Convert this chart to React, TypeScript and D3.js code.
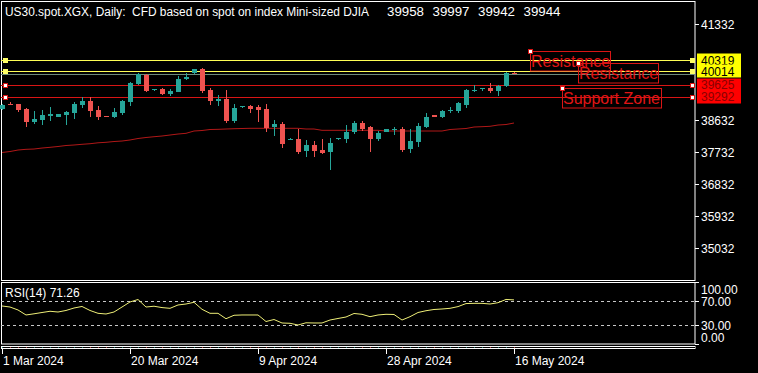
import React from 'react';
import * as d3 from 'd3';

// ---- data ----
const openP = [38949,39104,39098,38949,38575,38640,38761,38733,38781,38845,39062,39174,38921,38752,38733,38845,39155,39652,39906,39492,39512,39371,39436,39785,39953,40074,39484,39183,39231,38612,38997,39034,38997,38949,38435,38528,38092,38106,37768,37937,37796,37732,38114,38106,38294,38564,38435,38106,38311,38367,38387,37816,38030,38452,38781,38733,38885,38893,39062,39464,39512,39548,39456,39596,39958];
const highP = [39090,39138,39104,38986,38893,38921,39014,38820,38893,39155,39295,39295,39034,38761,38986,39202,39709,39953,39934,39526,39540,39512,39877,39953,40074,40089,39532,39343,39484,39090,39034,39062,39062,39090,38640,38592,38134,38387,38078,38049,38106,38142,38142,38499,38612,38612,38471,38331,38401,38452,38435,38378,38547,38845,38789,38921,38997,39155,39503,39624,39540,39672,39624,39998,39997];
const lowP = [38921,39062,38873,38452,38528,38499,38612,38725,38499,38660,38969,38733,38640,38725,38705,38781,39042,39624,39419,39456,39335,39323,39427,39779,39948,39408,39062,39042,38564,38564,38992,38828,38592,38311,38198,37861,38078,37675,37608,37608,37675,37234,38092,38002,38238,38339,37749,38049,38302,38218,37749,37720,37872,38407,38725,38705,38828,38828,38969,39419,39464,39391,39323,39560,39942];
const closeP = [39062,39076,38921,38584,38668,38781,38809,38809,38873,39098,39183,38893,38733,38733,38873,39174,39689,39925,39456,39512,39371,39456,39793,39858,40066,39456,39183,39231,38612,38969,39025,38941,38921,38423,38528,37965,38114,37732,37937,37768,37703,38002,38134,38311,38564,38378,38106,38283,38387,38387,37796,38058,38480,38733,38733,38902,38913,39110,39484,39498,39532,39456,39596,39953,39944];
const maValues = [37726,37754,37796,37816,37824,37852,37872,37895,37923,37937,37957,37973,37999,38013,38035,38049,38078,38120,38148,38170,38190,38218,38246,38266,38331,38345,38373,38378,38387,38395,38401,38407,38407,38407,38407,38407,38407,38407,38387,38387,38350,38350,38350,38350,38350,38350,38350,38350,38331,38331,38331,38331,38331,38331,38331,38331,38373,38387,38401,38443,38452,38463,38499,38513,38556];
const rsiValues = [61.4,59.7,54.9,46.8,48.7,50.8,52.8,51.6,54.1,58.1,60.6,54.1,49.5,48.4,51.6,59.7,67.9,71.9,59.7,61.0,58.8,57.6,63.0,64.6,67.4,56.0,49.5,49.5,40.7,46.3,46.8,46.8,46.8,36.2,39.4,33.8,33.3,30.5,34.1,33.8,33.8,38.6,41.1,43.5,49.2,47.9,44.0,46.8,47.9,47.6,38.6,44.0,50.8,53.7,55.7,56.5,57.6,60.4,65.3,65.7,65.7,64.6,66.7,72.0,71.26];

const dateLabels = ['1 Mar 2024', '20 Mar 2024', '9 Apr 2024', '28 Apr 2024', '16 May 2024'];
const dateBars = [0, 16, 32, 48, 64];
const priceTicks = [41332, 40432, 39532, 38632, 37732, 36832, 35932, 35032];
const resistanceLevels = [40319, 40014];
const supportLevels = [39625, 39292];
const bidPrice = 39944;
const rsiLevels = [70, 30];
const rsiAxisLabels = ['100.00', '70.00', '30.00', '0.00'];
const rsiAxisValues = [100, 70, 30, 0];
const annotations = [
  { text: 'Resistance', bar: 66, price: 40581 },
  { text: 'Resistance', bar: 72, price: 40243 },
  { text: 'Support Zone', bar: 70, price: 39540 },
];
const titleMain = 'US30.spot.XGX, Daily:  CFD based on spot on index Mini-sized DJIA';
const titleOHLC = ['39958', '39997', '39942', '39944'];
const rsiTitle = 'RSI(14) 71.26';

const W = 758, H = 373;
const FONT = '"Liberation Sans", Arial, sans-serif';
const BULL = '#26a69a', BEAR = '#ef5350';

export default function App() {
  const x = d3.scaleLinear().domain([0, 64]).range([2, 514]);
  const y = d3.scaleLinear().domain([35032, 41332]).range([248.3, 24.3]);
  const ry = d3.scaleLinear().domain([0, 100]).range([343.8, 282.2]);
  const px = (v: number) => Math.round(v) + 0.5;

  const maLine = d3.line<number>().x((_, i) => x(i)).y(d => y(d))(maValues) || '';
  const rsiLine = d3.line<number>().x((_, i) => x(i)).y(d => ry(d))(rsiValues) || '';

  const left = 1, right = 695;
  const rsiLabelY = [289, 301, 325, 337];
  const levelYs = [...resistanceLevels, ...supportLevels].map(p => y(p));
  const visibleTicks = priceTicks.filter(p => levelYs.every(ly => Math.abs(ly - y(p)) > 8));

  return (
    <svg width={W} height={H} style={{ position: 'fixed', left: 0, top: 0, background: '#000', display: 'block' }} fontFamily={FONT}>
      <rect x={0} y={0} width={W} height={H} fill="#000" />
      <rect x={1.5} y={1.5} width={right - 1.5} height={279} fill="none" stroke="#fff" strokeWidth={1} />
      <rect x={1.5} y={282.5} width={right - 1.5} height={61.5} fill="none" stroke="#fff" strokeWidth={1} />
      <rect x={1.5} y={346.5} width={right - 1.5} height={2} fill="none" stroke="#fff" strokeWidth={1} />

      <line x1={left} x2={right} y1={px(y(bidPrice))} y2={px(y(bidPrice))} stroke="#6e8c7a" strokeWidth={1} />
      {resistanceLevels.map((p, i) => (
        <line key={'r' + i} x1={left} x2={right} y1={px(y(p))} y2={px(y(p))} stroke="#ffff55" strokeWidth={1} />
      ))}
      {supportLevels.map((p, i) => (
        <line key={'s' + i} x1={left} x2={right} y1={px(y(p))} y2={px(y(p))} stroke="#d81515" strokeWidth={1} />
      ))}

      <path d={maLine} fill="none" stroke="#b01818" strokeWidth={1} />

      {openP.map((o, i) => {
        const c = closeP[i];
        const bull = c >= o;
        const col = bull ? BULL : BEAR;
        const cx = Math.round(x(i));
        const top = Math.round(y(Math.max(o, c)));
        const bot = Math.round(y(Math.min(o, c)));
        return (
          <g key={'c' + i}>
            <line x1={cx + 0.5} x2={cx + 0.5} y1={Math.round(y(highP[i]))} y2={Math.round(y(lowP[i]))} stroke={col} strokeWidth={1} />
            <rect x={cx - 2} y={top} width={5} height={Math.max(1, bot - top)} fill={col} />
          </g>
        );
      })}

      {resistanceLevels.map((p, i) => (
        <g key={'rm' + i}>
          <rect x={3} y={Math.round(y(p)) - 2} width={5} height={5} fill="#ffff66" />
          <rect x={690} y={Math.round(y(p)) - 2} width={5} height={5} fill="#ffff66" />
        </g>
      ))}
      {supportLevels.map((p, i) => (
        <g key={'sm' + i}>
          <rect x={3.5} y={Math.round(y(p)) - 1.5} width={4} height={4} fill="#fff" stroke="#d81515" />
          <rect x={690.5} y={Math.round(y(p)) - 1.5} width={4} height={4} fill="#fff" stroke="#d81515" />
        </g>
      ))}

      {annotations.map((a, i) => {
        const ax = Math.round(x(a.bar));
        const ay = Math.round(y(a.price));
        const w = a.text === 'Support Zone' ? 99 : 80;
        return (
          <g key={'a' + i}>
            <rect x={ax + 0.5} y={ay + 0.5} width={w} height={19.5} fill="none" stroke="#d81515" />
            <text x={ax + 1} y={ay + 16} fontSize={16} fill="#e01515">{a.text}</text>
            <rect x={ax - 1.5} y={ay - 1.5} width={4} height={4} fill="#fff" stroke="#d81515" />
          </g>
        );
      })}

      {visibleTicks.map((p, i) => (
        <g key={'pt' + i}>
          <line x1={right} x2={699} y1={px(y(p))} y2={px(y(p))} stroke="#fff" />
          <text x={701} y={y(p) + 4.5} fontSize={12} fill="#fff">{p}</text>
        </g>
      ))}
      {resistanceLevels.map((p, i) => (
        <g key={'rl' + i}>
          <rect x={697} y={Math.round(y(p)) - 6.5} width={44} height={13} fill="#ffff00" />
          <text x={701} y={y(p) + 4.5} fontSize={12} fill="#000">{p}</text>
        </g>
      ))}
      {supportLevels.map((p, i) => (
        <g key={'sl' + i}>
          <rect x={697} y={Math.round(y(p)) - 6.5} width={44} height={13} fill="#ff0000" />
          <text x={701} y={y(p) + 4.5} fontSize={12} fill="#8a0000">{p}</text>
        </g>
      ))}

      <text x={5} y={16} fontSize={12.5} fill="#fff" textLength={364} lengthAdjust="spacingAndGlyphs" style={{ whiteSpace: 'pre' }}>{titleMain}</text>
      {titleOHLC.map((t, i) => (
        <text key={'o' + i} x={387 + i * 45.5} y={16} fontSize={12.5} fill="#fff" textLength={37} lengthAdjust="spacingAndGlyphs">{t}</text>
      ))}

      {rsiLevels.map((l, i) => (
        <line key={'rl' + i} x1={left} x2={right} y1={px(ry(l))} y2={px(ry(l))} stroke="#c8c8c8" strokeDasharray="3,3" />
      ))}
      <path d={rsiLine} fill="none" stroke="#eeee77" strokeWidth={1} />
      <text x={5} y={296.5} fontSize={12} fill="#fff">{rsiTitle}</text>
      {rsiAxisValues.map((v, i) => (
        <g key={'ra' + i}>
          <line x1={right} x2={699} y1={px(ry(v))} y2={px(ry(v))} stroke="#fff" />
          <text x={701} y={rsiLabelY[i] + 4.5} fontSize={12} fill="#fff">{rsiAxisLabels[i]}</text>
        </g>
      ))}

      {openP.map((o, i) => (
        <rect key={'m' + i} x={Math.round(x(i))} y={347} width={1} height={1} fill={closeP[i] >= o ? BULL : BEAR} opacity={0.7} />
      ))}

      {dateBars.map((b, i) => (
        <g key={'d' + i}>
          <line x1={px(x(b))} x2={px(x(b))} y1={349} y2={354} stroke="#fff" />
          <text x={Math.round(x(b)) + 1} y={365} fontSize={12} fill="#fff">{dateLabels[i]}</text>
        </g>
      ))}
    </svg>
  );
}
